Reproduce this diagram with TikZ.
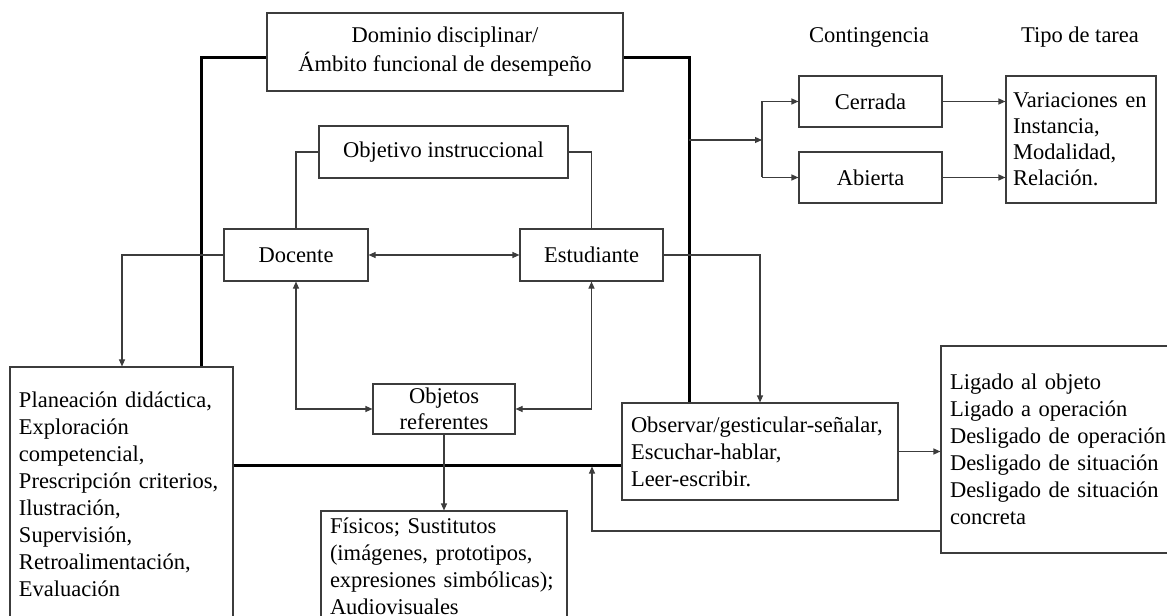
\documentclass[tikz,border=0pt]{standalone}
\usepackage{fontspec}
\setmainfont{Liberation Serif}
\usetikzlibrary{arrows.meta,calc}
\definecolor{lc}{HTML}{3C3C3C}
\begin{document}
\begin{tikzpicture}[x=1bp,y=-1bp,
  every node/.style={font=\fontsize{22.5bp}{27bp}\selectfont},
  box/.style={draw=lc, line width=1.1bp, rectangle, inner sep=0pt},
  lbox/.style={box, align=left, inner xsep=9bp},
  conn/.style={draw=lc, line width=1.1bp},
  arr/.style={conn, -{Triangle[length=7bp,width=6bp]}},
  darr/.style={conn, {Triangle[length=7bp,width=6bp]}-{Triangle[length=7bp,width=6bp]}},
  frameline/.style={draw=black, line width=3bp},
]
\useasboundingbox (0,0) rectangle (1167,616);
\clip (0,0) rectangle (1167,616);

% nodes
\node[box, minimum width=356bp, minimum height=78bp, align=center, font=\fontsize{22.5bp}{29bp}\selectfont] (dom) at (445,52) {Dominio disciplinar/\\Ámbito funcional de desempeño};
\node (cont) at (869,37) {Contingencia};
\node (tipo) at (1080,37) {Tipo de tarea};
\node[box, minimum width=143bp, minimum height=51bp] (cer) at (870.5,101.5) {Cerrada};
\node[box, minimum width=143bp, minimum height=51bp] (abi) at (870.5,177.5) {Abierta};
\node[lbox, inner xsep=7bp, text width=136bp, minimum height=127bp, font=\fontsize{22.5bp}{26bp}\selectfont] (var) at (1081,139.5) {Variaciones en\\Instancia,\\Modalidad,\\Relación.};
\node[box, minimum width=249bp, minimum height=52bp] (obj) at (443.5,152) {Objetivo instruccional};
\node[box, minimum width=144bp, minimum height=52bp] (doc) at (296,255) {Docente};
\node[box, minimum width=143bp, minimum height=52bp] (est) at (591.5,255) {Estudiante};
\node[box, minimum width=142bp, minimum height=50bp, align=center, font=\fontsize{22.5bp}{26bp}\selectfont] (objr) at (444,409) {Objetos\\referentes};
\node[lbox, text width=205bp, minimum height=254bp] (plan) at (121.5,494) {Planeación didáctica,\\Exploración\\competencial,\\Prescripción criterios,\\Ilustración,\\Supervisión,\\Retroalimentación,\\Evaluación};
\node[lbox, text width=228bp, minimum height=110bp] (fis) at (444,566) {Físicos; Sustitutos\\(imágenes, prototipos,\\expresiones simbólicas);\\Audiovisuales};
\node[lbox, text width=258bp, minimum height=97bp] (obs) at (760,451.5) {Observar/gesticular-señalar,\\Escuchar-hablar,\\Leer-escribir.};
\node[lbox, text width=221bp, minimum height=207bp] (lig) at (1060.5,449.5) {Ligado al objeto\\Ligado a operación\\Desligado de operación\\Desligado de situación\\Desligado de situación\\concreta};

% helper coordinates
\coordinate (tl) at (201,58);
\coordinate (tr) at (689,58);
\coordinate (bl) at (0,465);
\coordinate (c1) at (122,0);
\coordinate (c2) at (760,0);
\coordinate (br) at (689,140);
\coordinate (bj) at (762,140);
\coordinate (fb) at (592,531);

% thick frame
\draw[frameline] (plan.north -| tl) |- (dom.west |- tl);
\draw[frameline] (dom.east |- tr) -| (obs.north -| tr);
\draw[frameline] (plan.east |- bl) -- (obs.west |- bl);

% connectors
\draw[arr] (doc.west) -| (plan.north -| c1);
\draw[darr] (doc.east) -- (est.west);
\draw[conn] (doc.north) |- (obj.west);
\draw[conn] (est.north) |- (obj.east);
\draw[darr] (doc.south) |- (objr.west);
\draw[darr] (est.south) |- (objr.east);
\draw[arr] (objr.south) -- (fis.north);
\draw[arr] (est.east) -| (obs.north -| c2);
\draw[arr] (br) -- (bj);
\draw[conn] (bj |- cer.west) -- (bj |- abi.west);
\draw[arr] (bj |- cer.west) -- (cer.west);
\draw[arr] (bj |- abi.west) -- (abi.west);
\draw[arr] (cer.east) -- (var.west |- cer.east);
\draw[arr] (abi.east) -- (var.west |- abi.east);
\draw[arr] (obs.east) -- (lig.west |- obs.east);
\draw[arr] (lig.west |- fb) -| ($(fb |- bl)+(0,1.5)$);
\end{tikzpicture}
\end{document}
